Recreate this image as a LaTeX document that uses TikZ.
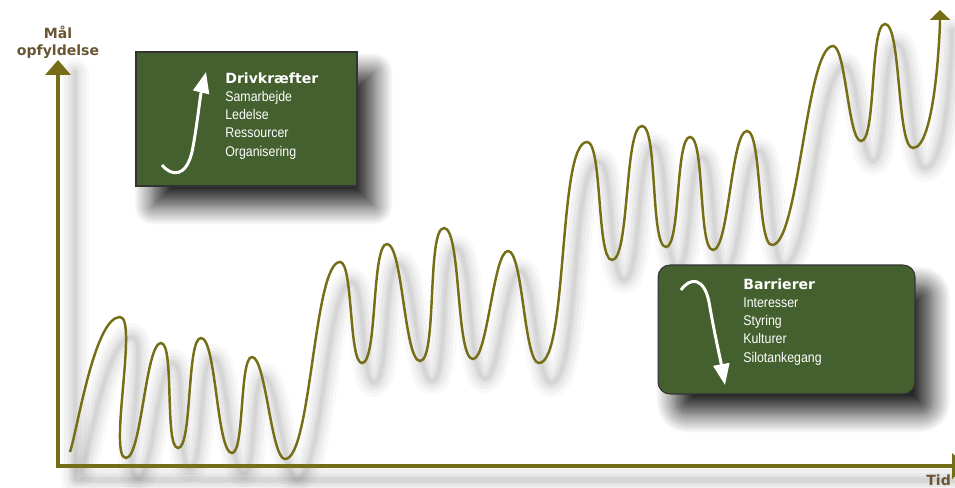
\documentclass[tikz,border=0pt]{standalone}
\usepackage{fontspec}
\newfontfamily\bodyfont[FakeStretch=0.88]{Liberation Sans}
\newfontfamily\headfont{DejaVu Sans}
\usetikzlibrary{arrows.meta, shadows.blur}
\definecolor{curveolive}{RGB}{117,110,22}
\definecolor{boxgreen}{RGB}{67,96,46}
\definecolor{labelbrown}{RGB}{105,85,50}
% the goal curve, in pixel units
\newcommand{\wavepath}{(70,35) to[out=72,in=180,looseness=0.45] (120,170)
  to[wave] (126,29) to[wave] (161,144) to[wave] (178,39) to[wave] (201,149)
  to[wave] (232,34) to[wave] (252,130) to[wave] (285,28)
  to[wave] (340,225) to[wave] (362,124) to[wave] (387,243) to[wave] (420,126)
  to[wave] (444,259) to[wave] (473,128) to[wave] (508,236) to[wave] (539,124)
  to[wave] (587,345) to[wave] (612,227) to[wave] (642,361) to[wave] (666,240)
  to[wave] (690,350) to[wave] (713,237) to[wave] (747,356) to[wave] (772,242)
  to[wave] (833,441) to[wave] (861,346) to[wave] (885,463) to[wave] (913,339)
  to[out=0,in=-90,looseness=0.4] (940,477)}

\begin{document}
\begin{tikzpicture}[x=0.02cm, y=0.02cm,
  wave/.style={out=0, in=180, looseness=0.33},
  axisline/.style={curveolive, line width=2pt},
  waveline/.style={curveolive, line width=1.4pt, -{Triangle[width=0.4cm,length=0.2cm]}},
  softshadow/.style={black, line cap=round, line join=round},
  infobox/.style={draw=black!80, fill=boxgreen, line width=0.6pt,
    blur shadow={shadow xshift=0.34cm, shadow yshift=-0.4cm, shadow blur radius=0.38cm,
      shadow blur steps=16, shadow opacity=85}},
  boxtext/.style={text=white, align=left, inner sep=0pt, anchor=north west,
    font=\fontsize{8}{10.4}\selectfont\bodyfont},
  boxarrow/.style={white, line width=1.7pt, -{Triangle[width=0.32cm,length=0.42cm]}},
  axislabel/.style={text=labelbrown, inner sep=0pt, font=\fontsize{8}{9.6}\selectfont\headfont\bfseries}]
  \path[use as bounding box] (0,0) rectangle (955,487);
  \clip (0,0) rectangle (955,487);

  % soft shadows
  \foreach \w/\o in {16/0.025, 12/0.03, 8/0.04, 4.5/0.045, 2/0.04} {
    \draw[softshadow, line width=\w pt, opacity=\o] (75,415) |- (960,7);
    \draw[softshadow, line width=\w pt, opacity=\o, shift={(12,-20)}] \wavepath;
  }

  % axes
  \coordinate (origin) at (58,21);
  \coordinate (ytip) at (58,427);
  \coordinate (xtip) at (967,21);
  \draw[axisline, {Triangle[width=0.5cm,length=0.3cm]}-{Triangle[width=0.5cm,length=0.3cm]}] (ytip) |- (xtip);
  \node[axislabel, align=center, anchor=north] (ylabel) at (58,461) {Mål\\opfyldelse};
  \node[axislabel, anchor=base west] (xlabel) at (926,2) {Tid};

  % curve
  \draw[waveline] \wavepath;

  % boxes
  \node[infobox, minimum width=4.42cm, minimum height=2.68cm] (drivbox) at (246.5,368) {};
  \node[infobox, rounded corners=0.24cm, minimum width=5.14cm, minimum height=2.58cm] (barbox) at (786.5,157.5) {};
  \node[boxtext] (drivtext) at (225,415) {{\headfont\bfseries Drivkræfter}\\Samarbejde\\Ledelse\\Ressourcer\\Organisering};
  \node[boxtext] (bartext) at (743,209) {{\headfont\bfseries Barrierer}\\Interesser\\Styring\\Kulturer\\Silotankegang};

  \coordinate (upstart) at (162,322);
  \coordinate (uptip) at (206,415);
  \draw[boxarrow] (upstart) .. controls (172,310) and (186,310) .. (192,335) .. controls (197,360) and (200,390) .. (uptip);
  \coordinate (downstart) at (681,197);
  \coordinate (downtip) at (725,102);
  \draw[boxarrow] (downstart) .. controls (690,210) and (704,210) .. (709,185) .. controls (715,150) and (720,130) .. (downtip);
\end{tikzpicture}
\end{document}
